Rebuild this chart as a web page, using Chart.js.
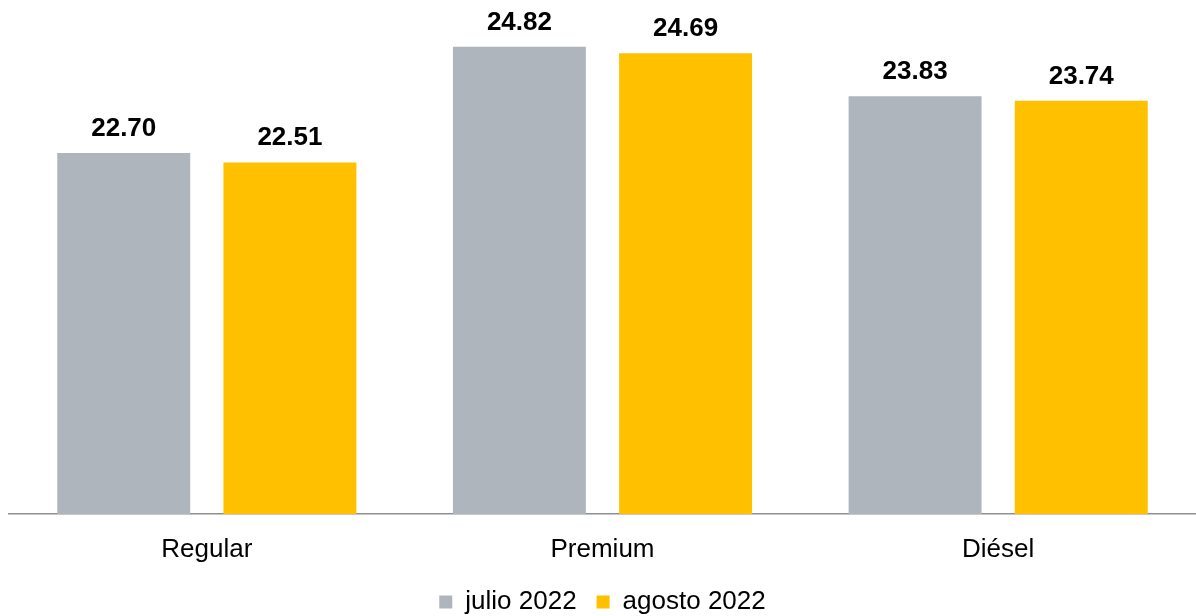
<!DOCTYPE html>
<html>
<head>
<meta charset="utf-8">
<script src="https://cdn.jsdelivr.net/npm/chart.js@4/dist/chart.umd.min.js"></script>
<style>
  html, body { margin: 0; padding: 0; background: #ffffff; }
  #wrap { width: 1196px; height: 616px; position: relative; }
</style>
</head>
<body>
<div id="wrap"><canvas id="chart"></canvas></div>
<script>
// chart data
const categories = ['Regular', 'Premium', 'Diésel'];
const seriesNames = ['julio 2022', 'agosto 2022'];
const julio = [22.70, 24.82, 23.83];
const agosto = [22.51, 24.69, 23.74];

const gray = '#AEB5BC';
const gold = '#FFC000';
const fontFamily = '"Liberation Sans", Arial, sans-serif';

// values above the bars
const valueLabels = {
  id: 'valueLabels',
  afterDatasetsDraw(chart) {
    const ctx = chart.ctx;
    ctx.save();
    ctx.font = 'bold 26px ' + fontFamily;
    ctx.fillStyle = '#000000';
    ctx.textAlign = 'center';
    ctx.textBaseline = 'alphabetic';
    chart.data.datasets.forEach((ds, i) => {
      chart.getDatasetMeta(i).data.forEach((bar, j) => {
        ctx.fillText(ds.data[j].toFixed(2), bar.x, bar.y - 17);
      });
    });
    ctx.restore();
  }
};

new Chart(document.getElementById('chart'), {
  type: 'bar',
  data: {
    labels: categories,
    datasets: [
      { label: seriesNames[0], data: julio, backgroundColor: gray },
      { label: seriesNames[1], data: agosto, backgroundColor: gold }
    ]
  },
  options: {
    responsive: true,
    maintainAspectRatio: false,
    animation: false,
    categoryPercentage: 0.84,
    barPercentage: 0.8,
    layout: { padding: { left: 9, right: 0, top: 0, bottom: -9 } },
    scales: {
      x: {
        grid: { display: false, drawTicks: false },
        border: { display: true, color: '#8f8f8f', width: 1.5 },
        ticks: { color: '#000000', padding: 20, font: { size: 26, family: fontFamily } },
        afterFit(scale) { scale.height = 55; }
      },
      y: {
        display: false,
        min: 15.5,
        max: 25.75
      }
    },
    plugins: {
      legend: {
        position: 'bottom',
        labels: {
          boxWidth: 13,
          boxHeight: 13,
          padding: 20,
          color: '#000000',
          font: { size: 26, family: fontFamily }
        }
      },
      tooltip: { enabled: false }
    }
  },
  plugins: [valueLabels]
});
</script>
</body>
</html>
